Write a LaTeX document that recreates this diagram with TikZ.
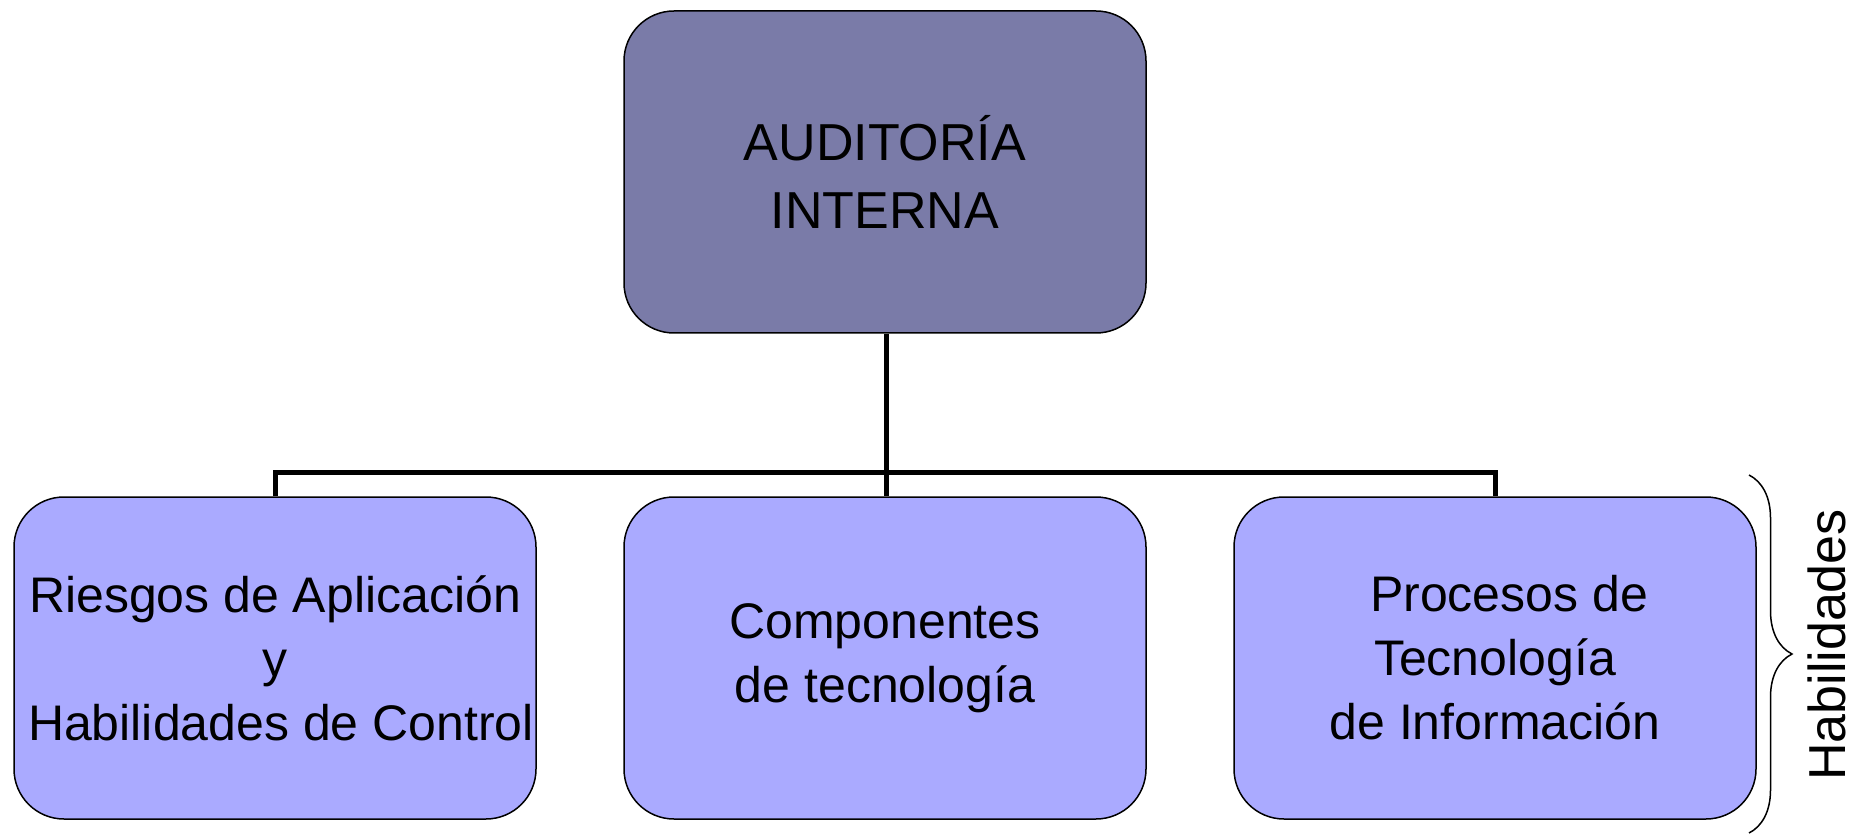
\documentclass[tikz,border=0pt]{standalone}
\usepackage{fontspec}
\setmainfont{Liberation Sans}
\usetikzlibrary{decorations.pathreplacing}
\definecolor{topfill}{RGB}{122,123,168}
\definecolor{boxfill}{RGB}{170,170,255}
\begin{document}
\begin{tikzpicture}[x=1pt,y=-1pt,
  box/.style={draw=black, line width=1.5pt, rounded corners=50pt, minimum width=522pt, minimum height=322pt, align=center, inner sep=0pt, font=\fontsize{50}{64}\selectfont},
  conn/.style={draw=black, line width=5pt},
  bracestyle/.style={draw=black, line width=1.5pt, decorate, decoration={brace, amplitude=43pt}}]
\useasboundingbox (0,0) rectangle (1869,834);
\node[box, fill=topfill, font=\fontsize{52}{68}\selectfont] (top) at (885,172) {AUDITORÍA\\INTERNA};
\node[box, fill=boxfill] (left) at (275,658) {Riesgos de Aplicación\\y\\\hspace*{12pt}Habilidades de Control};
\node[box, fill=boxfill] (mid) at (885,658) {Componentes\\de tecnología};
\node[box, fill=boxfill] (right) at (1495,658) {\hspace*{28pt}Procesos de\\Tecnología\\de Información};
\coordinate (bus) at (886,472);
\draw[conn] (top.south -| bus) -- (mid.north -| bus);
\draw[conn] (left.north) -- (left.north |- bus) -- (right.north |- bus) -- (right.north);
\coordinate (bt) at (1749,475);
\coordinate (bb) at (1749,833);
\draw[bracestyle] (bt) -- (bb);
\node[rotate=90, font=\fontsize{52}{60}\selectfont, inner sep=0pt] (hab) at (1827,645) {Habilidades};
\end{tikzpicture}
\end{document}
